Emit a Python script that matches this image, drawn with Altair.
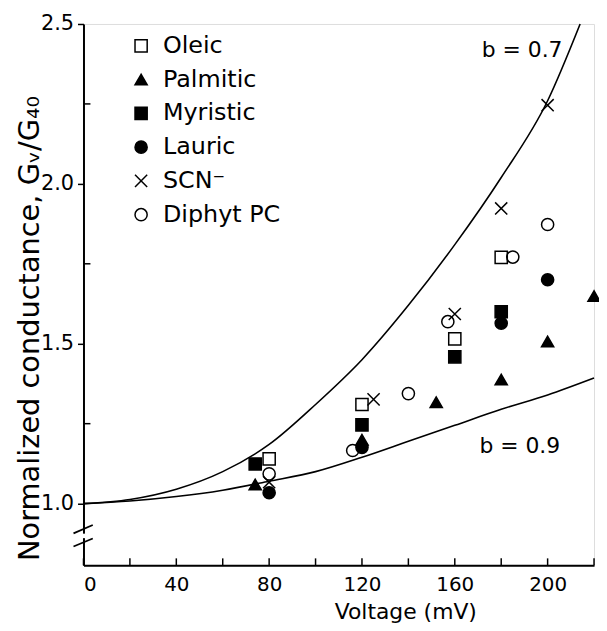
import altair as alt
import pandas as pd

FONT = "DejaVu Sans"

# ---- data ----
series_names = ["Oleic", "Palmitic", "Myristic", "Lauric", "SCN⁻", "Diphyt  PC"]

oleic_v = [80, 120, 160, 180]
oleic_g = [1.14, 1.31, 1.515, 1.77]

palmitic_v = [74, 120, 152, 180, 200, 220]
palmitic_g = [1.06, 1.20, 1.317, 1.388, 1.507, 1.649]

myristic_v = [74, 120, 160, 180]
myristic_g = [1.124, 1.246, 1.459, 1.60]

lauric_v = [80, 120, 180, 200]
lauric_g = [1.034, 1.176, 1.564, 1.70]

scn_v = [80, 125, 160, 180, 200]
scn_g = [1.067, 1.326, 1.593, 1.923, 2.246]

diphyt_v = [80, 116, 140, 157, 185, 200]
diphyt_g = [1.093, 1.166, 1.344, 1.569, 1.771, 1.873]

# theoretical curves
curve07_v = [0, 20, 40, 60, 80, 100, 120, 140, 160, 180, 200, 214]
curve07_g = [1.0, 1.013, 1.045, 1.10, 1.185, 1.31, 1.45, 1.62, 1.81, 2.02, 2.26, 2.50]
curve09_v = [0, 20, 40, 60, 80, 100, 120, 140, 160, 180, 200, 220]
curve09_g = [1.0, 1.008, 1.022, 1.042, 1.07, 1.10, 1.145, 1.195, 1.245, 1.295, 1.34, 1.393]

label_text = ["b = 0.7", "b = 0.9"]
label_v = [189, 188]
label_g = [2.418, 1.181]

x_tick_values = [0, 20, 40, 60, 80, 100, 120, 140, 160, 180, 200, 220]
x_label_values = [0, 40, 80, 120, 160, 200]
y_label_values = [1.0, 1.5, 2.0, 2.5]
y_minor_values = [1.25, 1.75, 2.25]

# axis-break slashes
break_v1 = [-4.3, -4.3]
break_v2 = [4.0, 4.0]
break_g1 = [0.907, 0.866]
break_g2 = [0.933, 0.891]
gap_g1 = [0.892]
gap_g2 = [0.906]

# ---- tables ----
rows = []
for name, vs, gs in zip(
    series_names,
    [oleic_v, palmitic_v, myristic_v, lauric_v, scn_v, diphyt_v],
    [oleic_g, palmitic_g, myristic_g, lauric_g, scn_g, diphyt_g],
):
    for v, g in zip(vs, gs):
        rows.append({"V": v, "G": g, "series": name})
points_df = pd.DataFrame(rows)

curve_rows = []
for name, vs, gs in [("b07", curve07_v, curve07_g), ("b09", curve09_v, curve09_g)]:
    for v, g in zip(vs, gs):
        curve_rows.append({"V": v, "G": g, "curve": name})
curves_df = pd.DataFrame(curve_rows)

labels_df = pd.DataFrame({"V": label_v, "G": label_g, "text": label_text})
xt_df = pd.DataFrame({"V": x_tick_values})
ym_df = pd.DataFrame({"G": y_minor_values})
brk_df = pd.DataFrame({"V": break_v1, "V2": break_v2, "G": break_g1, "G2": break_g2})
gap_df = pd.DataFrame({"G": gap_g1, "G2": gap_g2})

x_scale = alt.Scale(domain=[0, 220], nice=False, zero=False)
y_scale = alt.Scale(domain=[0.807, 2.5], nice=False, zero=False)

x_axis = alt.Axis(
    values=x_label_values, ticks=False, grid=False, domainColor="black", domainWidth=2,
    labelFont=FONT, labelFontSize=20, labelColor="black", labelPadding=9,
    title="Voltage  (mV)", titleFont=FONT, titleFontSize=22, titleFontWeight="normal",
    titleColor="black", titleX=324, titleY=54, titleBaseline="alphabetic", titleAlign="center",
)
y_axis = alt.Axis(
    values=y_label_values, format=".1f", tickSize=6, tickWidth=1.5, tickColor="black",
    grid=False, domainColor="black", domainWidth=2,
    labelFont=FONT, labelFontSize=21, labelColor="black", labelPadding=4,
    title="Normalized  conductance,  Gᵥ/G₄₀", titleFont=FONT, titleFontSize=29,
    titleFontWeight="normal", titleColor="black", titleX=-54, titleY=306,
    titleAngle=-90, titleBaseline="middle", titleAlign="center",
)

shape_range = ["square", "triangle-up", "square", "circle",
               "M-1,-1L1,1M-1,1L1,-1", "circle"]
fill_range = ["transparent", "black", "black", "black", "transparent", "transparent"]
stroke_range = ["black"] * 6

legend = alt.Legend(
    title=None, orient="none", legendX=46, legendY=10, padding=0,
    labelFont=FONT, labelFontSize=24, labelColor="black", labelOffset=10,
    symbolSize=150, symbolStrokeColor="black", symbolStrokeWidth=1.5,
    rowPadding=10,
)

curves = alt.Chart(curves_df).mark_line(color="black", strokeWidth=1.6, interpolate="monotone").encode(
    x=alt.X("V:Q", scale=x_scale, axis=x_axis),
    y=alt.Y("G:Q", scale=y_scale, axis=y_axis),
    detail="curve:N",
    order="V:Q",
)

points = alt.Chart(points_df).mark_point(size=150, strokeWidth=1.5, opacity=1).encode(
    x=alt.X("V:Q", scale=x_scale),
    y=alt.Y("G:Q", scale=y_scale),
    shape=alt.Shape("series:N", sort=series_names,
                    scale=alt.Scale(domain=series_names, range=shape_range), legend=legend),
    fill=alt.Fill("series:N", sort=series_names,
                  scale=alt.Scale(domain=series_names, range=fill_range), legend=legend),
    stroke=alt.Stroke("series:N", sort=series_names,
                      scale=alt.Scale(domain=series_names, range=stroke_range), legend=legend),
)

texts = alt.Chart(labels_df).mark_text(font=FONT, fontSize=22, color="black").encode(
    x=alt.X("V:Q", scale=x_scale), y=alt.Y("G:Q", scale=y_scale), text="text:N"
)

xticks = alt.Chart(xt_df).mark_rule(color="black", strokeWidth=1.5).encode(
    x=alt.X("V:Q", scale=x_scale), y=alt.value(545), y2=alt.value(538)
)
yminor = alt.Chart(ym_df).mark_rule(color="black", strokeWidth=1.5).encode(
    y=alt.Y("G:Q", scale=y_scale), x=alt.value(0), x2=alt.value(7)
)
gap = alt.Chart(gap_df).mark_rule(color="white", strokeWidth=6).encode(
    y=alt.Y("G:Q", scale=y_scale), y2="G2:Q", x=alt.value(0)
)
slashes = alt.Chart(brk_df).mark_rule(color="black", strokeWidth=1.8).encode(
    x=alt.X("V:Q", scale=x_scale), x2="V2:Q",
    y=alt.Y("G:Q", scale=y_scale), y2="G2:Q",
)

chart = alt.layer(curves, xticks, yminor, gap, slashes, points, texts).properties(
    width=514, height=545,
    padding={"left": 76, "top": 14, "right": 5, "bottom": 60},
    autosize=alt.AutoSizeParams(type="none"),
).configure_view(stroke=None).configure(background="white")

chart.save("out.html", embed_options={"renderer": "svg", "actions": False})
